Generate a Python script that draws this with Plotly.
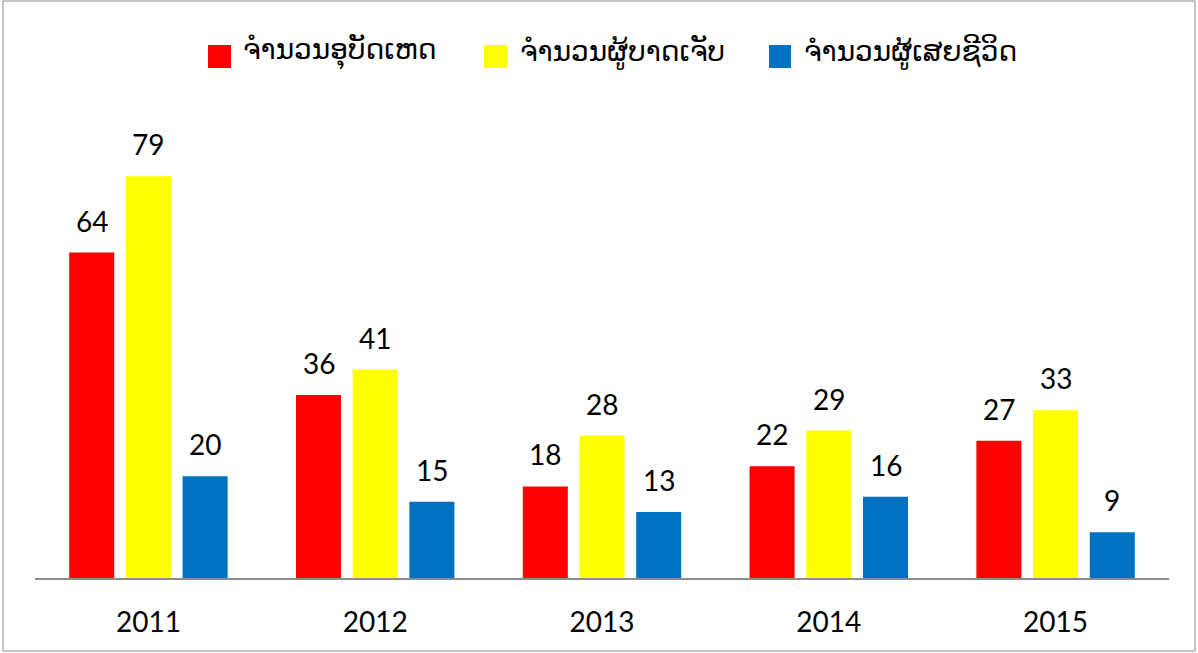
import plotly.graph_objects as go

years = ["2011", "2012", "2013", "2014", "2015"]
accidents = [64, 36, 18, 22, 27]
injured = [79, 41, 28, 29, 33]
deaths = [20, 15, 13, 16, 9]
names = ["ຈຳນວນອຸບັດເຫດ", "ຈຳນວນຜູ້ບາດເຈັບ", "ຈຳນວນຜູ້ເສຍຊີວິດ"]
colors = ["#FF0000", "#FFFF00", "#0070C0"]

W, H = 1198, 653
l, r, t, b = 35, 29, 100, 75
pw, ph = W - l - r, H - t - b
AXIS_Y = H - b

def px(x):
    return (x - l) / pw

def py(y):
    return (AXIS_Y - y) / ph

NUMFONT = dict(family="Lato, Open Sans, sans-serif", size=28, color="#000000")

fig = go.Figure()
series = [accidents, injured, deaths]
shifts = [-56.7, 0, 56.7]
for name, vals, col, xs in zip(names, series, colors, shifts):
    fig.add_trace(go.Bar(
        x=years, y=vals, name=name, marker=dict(color=col, line=dict(width=0)),
        showlegend=False, hoverinfo="x+y+name",
    ))
    for i, v in enumerate(vals):
        fig.add_annotation(x=i, y=v, xref="x", yref="y", text=str(v),
                           showarrow=False, xshift=xs, yshift=32,
                           xanchor="center", yanchor="middle", font=NUMFONT)

# manual legend
leg_sq = [(208, 231), (484, 507), (769, 791)]
leg_tx = [241, 518, 802]
for name, col, (sx0, sx1), tx in zip(names, colors, leg_sq, leg_tx):
    fig.add_shape(type="rect", xref="paper", yref="paper",
                  x0=px(sx0), x1=px(sx1), y0=py(68), y1=py(45),
                  line=dict(width=0), fillcolor=col)
    fig.add_annotation(x=px(tx), y=py(52), xref="paper", yref="paper", text=name,
                       showarrow=False, xanchor="left", yanchor="middle",
                       font=dict(family="DejaVu Sans", size=28, color="#000000"))

fig.update_layout(
    width=W, height=H,
    margin=dict(l=l, r=r, t=t, b=b),
    barmode="group", bargap=0.25, bargroupgap=0.206,
    plot_bgcolor="white", paper_bgcolor="white",
    showlegend=False,
    xaxis=dict(type="category", range=[-0.5, len(years) - 0.5], showgrid=False,
               showline=True, linecolor="#8C8C8C", linewidth=2,
               ticks="", ticklabelstandoff=18, tickfont=NUMFONT),
    yaxis=dict(range=[0, 94], visible=False, showgrid=False),
)
fig.add_shape(type="rect", xref="paper", yref="paper",
              x0=px(3), x1=px(1195), y0=py(651), y1=py(1),
              line=dict(color="#8C8C8C", width=1), fillcolor="rgba(0,0,0,0)")

fig.write_html("out.html", config={"displayModeBar": False},
               post_script="document.body.style.margin='0';")
